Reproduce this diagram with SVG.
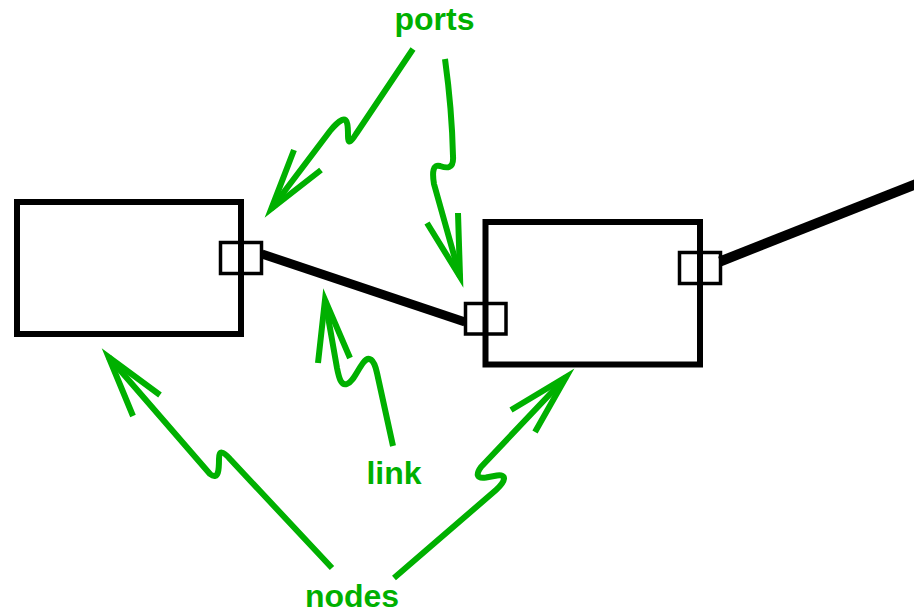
<svg xmlns="http://www.w3.org/2000/svg" width="914" height="615" viewBox="0 0 914 615">
<style>
.node{fill:none;stroke:#000;stroke-width:6}
.port{fill:none;stroke:#000;stroke-width:3.5}
.link{fill:none;stroke:#000;stroke-width:9;stroke-linecap:butt}
.ann{fill:none;stroke:#00b000;stroke-width:6;stroke-linecap:butt;stroke-linejoin:round}
.head{fill:none;stroke:#00b000;stroke-width:6;stroke-linecap:butt;stroke-linejoin:miter;stroke-miterlimit:10}
.lbl{fill:#00b000;font-family:"Liberation Sans",Arial,sans-serif;font-weight:bold;font-size:32px;text-anchor:middle}
</style>
<rect width="914" height="615" fill="#fff"/>
<g id="connectors">
<line class="link" x1="262" y1="254" x2="465" y2="322"/>
<line class="link" x1="720" y1="261.5" x2="930" y2="178.5" style="stroke-width:10"/>
</g>
<g id="node1">
<rect class="node" x="17" y="202" width="224" height="132"/>
<rect id="port1" class="port" x="220.5" y="242.5" width="41" height="31"/>
</g>
<g id="node2">
<rect class="node" x="485.5" y="222" width="214.5" height="142.5"/>
<rect id="port2" class="port" x="465.5" y="303.5" width="40.5" height="30.5"/>
<rect id="port3" class="port" x="679.5" y="252.5" width="41" height="31"/>
</g>
<g id="annotations">
<g id="arrow-ports-1">
<path class="ann" d="M413,49 L356,134 C351,142 348,145 348,136 C348,128 348,117 342,120 C338,122 334,126 330,131 L271.3,208.8"/>
<polyline class="head" points="294,150 271.3,208.8 321,170"/>
</g>
<g id="arrow-ports-2">
<path class="ann" d="M445,59 Q452,110 453,156 C454,170 446,168 440,166 C433,164 432,172 434,184 L460,276.6"/>
<polyline class="head" points="427,223 460,276.6 458,213"/>
</g>
<g id="arrow-link">
<path class="ann" d="M393,446 L377,373 C374,359 369,355 363,363 C357,371 353,382 347,384 C341,386 339,378 337,368 L325,299.8"/>
<polyline class="head" points="318,363 325,299.8 350,358"/>
</g>
<g id="arrow-nodes-1">
<path class="ann" d="M332,568 L230,459 C223,451 219,450 219,459 C219,468 219,481 210,474 L108.6,357"/>
<polyline class="head" points="133,416 108.6,357 160,395"/>
</g>
<g id="arrow-nodes-2">
<path class="ann" d="M394,578 L496,490 C506,481 507,474 497,475.5 L486,477.5 C476,479 476,474 481,467 L566.2,377"/>
<polyline class="head" points="511,410 566.2,377 535,432"/>
</g>
</g>
<g id="labels">
<text class="lbl" x="434.5" y="30">ports</text>
<text class="lbl" x="394" y="484">link</text>
<text class="lbl" x="352" y="607">nodes</text>
</g>
</svg>
